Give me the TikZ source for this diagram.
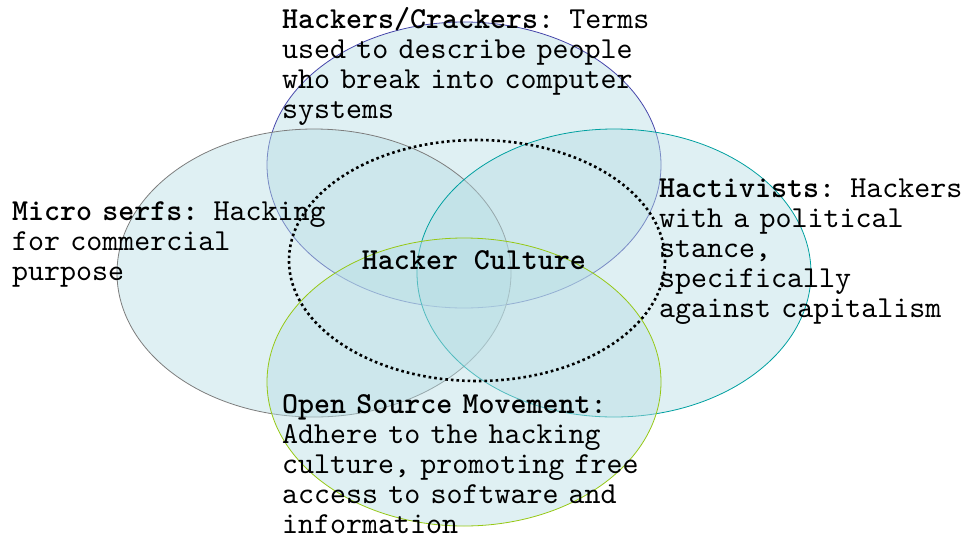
\documentclass[tikz,border=0pt]{standalone}
\usepackage{fontspec}
\setmainfont{lmmono10-regular.otf}[BoldFont=lmmonolt10-bold.otf]
\definecolor{efill}{RGB}{183,221,228}
\definecolor{ctop}{RGB}{70,70,170}
\definecolor{cleft}{RGB}{125,125,125}
\definecolor{cright}{RGB}{0,160,160}
\definecolor{cbot}{RGB}{150,200,20}
\newcommand\monofont{\fontsize{30.48}{30}\selectfont\spaceskip=0.525em\relax\xspaceskip=0.525em\relax}
\begin{document}
\begin{tikzpicture}[x=1pt,y=-1pt,
  circ/.style={fill=efill,fill opacity=0.45,line width=0.8pt},
  lbl/.style={anchor=base west,inner sep=0pt,text width=#1,align=left,
    font=\monofont},
  ctr/.style={anchor=base,inner sep=0pt,font=\monofont\bfseries}]
\useasboundingbox (0,0) rectangle (965,538);
\draw[circ,draw=ctop] (464,165) ellipse [x radius=197,y radius=143];
\draw[circ,draw=cleft] (314,273) ellipse [x radius=197,y radius=144];
\draw[circ,draw=cright] (614,273) ellipse [x radius=197,y radius=144];
\draw[circ,draw=cbot] (464,382) ellipse [x radius=197,y radius=144];
\draw[line width=2.6pt,dash pattern=on 2.6pt off 3pt] (477,260.5) ellipse [x radius=188,y radius=120.5];
\node[lbl=380pt] (hc) at (282,28) {\textbf{Hackers/Crackers}: Terms\\used to describe people\\who break into computer\\systems};
\node[lbl=330pt] (ms) at (12,220) {\textbf{Micro serfs:} Hacking\\for commercial\\purpose};
\node[lbl=310pt] (ha) at (659,197) {\textbf{Hactivists}: Hackers\\with a political\\stance,\\specifically\\against capitalism};
\node[lbl=380pt] (os) at (282,413) {\textbf{Open Source Movement}:\\Adhere to the hacking\\culture, promoting free\\access to software and\\information};
\node[ctr] (cu) at (474,269) {Hacker Culture};
\end{tikzpicture}
\end{document}
